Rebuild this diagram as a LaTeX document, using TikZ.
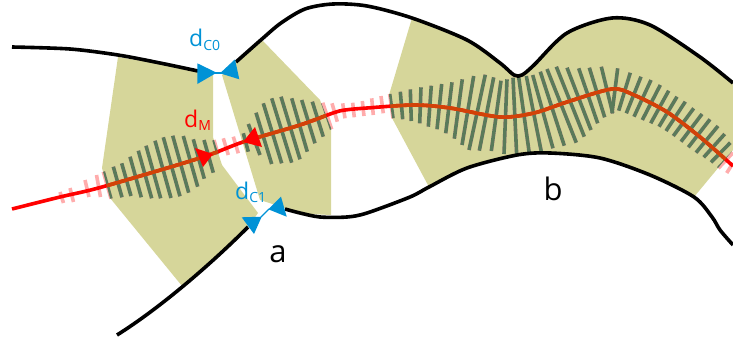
\documentclass[tikz,border=0pt]{standalone}
\usepackage{fontspec}
\setmainfont{Open Sans}
\usepackage{tikz}
\usetikzlibrary{arrows.meta,calc}
\definecolor{zonecolor}{RGB}{214,214,154}
\definecolor{gaugecolor}{RGB}{0,146,214}
\definecolor{tickcolor}{RGB}{90,122,90}
\definecolor{tickpale}{RGB}{255,172,172}
\definecolor{midcolor}{RGB}{255,0,0}
\definecolor{midinner}{RGB}{210,66,8}
\tikzset{
wall/.style={
  draw=black,
  line width=3.6pt
},
midline/.style={
  line width=3.6pt
},
tickline/.style={
  line width=3.6pt
},
gaugetip/.style={
  fill=gaugecolor
},
midtip/.style={
  fill=midcolor
},
gaugelabel/.style={
  text=gaugecolor,
  font=\fontsize{23}{25}\selectfont,
  inner sep=0pt
},
midlabel/.style={
  text=midcolor,
  font=\fontsize{23}{25}\selectfont,
  inner sep=0pt
},
namelabel/.style={
  text=black,
  font=\fontsize{31}{33}\selectfont,
  inner sep=0pt
}
}
% outlines of the shaded zones
\newcommand{\zoneleft}{(118,57) -- (197,70) -- (213,73) -- (213,137) -- (222,165) -- (258,213) -- (248,227) -- (182,286) -- (110,198) -- (102,168) -- cycle}
\newcommand{\zoneright}{(222,75) -- (236,62) -- (262,40) -- (320,100) -- (331,128) -- (331,215) -- (310,214) -- (285,208) -- (260,200) -- cycle}
\newcommand{\zonelong}{(412,18) -- plot[smooth] coordinates {(412,18) (467,40) (500,63) (514,75) (522,75) (534,65) (567,33) (612,18) (650,25) (700,57) (733,83)} -- (733,150) -- (694,197) -- plot[smooth] coordinates {(694,197) (650,175) (600,158) (550,153) (517,155) (467,168) (429,187)} -- (392,118) -- (389,95) -- cycle}
\newcommand{\midpath}{plot[smooth] coordinates {(12,209) (60,197) (102,187) (200,158) (243,142) (300,125) (333,113) (345,110) (367,108) (414,105) (450,108) (500,117) (534,113) (567,102) (612,89) (634,95) (667,112) (700,137) (733,166)}}
% tick ends along the mid line
\newcommand{\tickends}{
  60/192/63.5/203, 70/188/73.5/202, 85/180/89/197, 96.5/175/100.5/197,
  103.3/171.7/111/198.7, 113.3/166.7/122/197.3, 121.7/163.3/131/196, 130/156.7/141.3/197.3,
  138.3/150.7/151.7/198.3, 146/145.7/160.7/198.3, 155/140.7/171/198, 163.3/137.3/180/196.3,
  172.7/135.7/188.7/192.7, 183.3/136/197.7/186.7, 193.3/139.3/204.3/178.7, 204/140/213.3/172.7,
  214/140/218/154, 223.3/138.3/228.3/155, 233.3/136.7/238.3/153.3, 243.3/133.3/248.3/151.7,
  248.3/124/260/155, 256/112.7/271.7/164, 263.3/103.3/281.7/163.3, 271.7/98.3/291.7/162.7,
  281/96.7/300/159.3, 291.7/98.3/307.3/151.7, 301.7/100/315/143.3, 312.3/101.7/323.3/136.7,
  322.7/102.7/331.7/129.3,
  332/103.3/337.3/121.7, 342.7/103.3/345/118.3, 352.7/102.7/354.3/117.3, 362.3/101/364/116,
  371.7/98.3/373.3/115, 381/96/383.3/113.3,
  389.7/94/393/118.3, 400.3/91.7/402.7/119.3, 410.3/89.3/411.3/121, 421/87.3/419.7/123.3,
  431.3/85.7/428.3/126.7, 441.7/84/437/129.3, 452/82.3/445.7/133.3, 462.3/79.3/454.3/138.7,
  473.7/76/462/145, 485.3/74.7/469/150, 493.7/77.3/479.3/150.7, 501/80.7/491.3/151,
  507/79.3/504/154, 513/77.7/516.7/155.3, 518.7/77.3/529.3/153.3, 526.3/76/541.3/151.7,
  532.7/75/553/148.3, 540.3/71.7/564.3/145.7, 547/69/576.3/142.7, 556.3/66.7/584.3/136.7,
  567/67.7/591/130, 578.7/68.3/597.7/123.3, 589.3/67.7/604.7/117.3, 601.3/66.7/612.7/113.3,
  617.7/68.3/612/113.3, 630.3/72.7/618.7/110.7, 641/76.7/626.3/113.3, 651/80/634/116.7,
  660.3/85/642.3/120, 668.7/90.7/650.7/123.3, 677/96.7/659/126.7, 685.3/101.7/666/131,
  693.7/108.3/673.3/136, 702/114/681/141.7, 710/119.3/688.3/147.3, 718/126/696/152.7,
  724.7/134/703.7/157.3, 730.3/142.7/711/162.3,
  733/152.7/718.3/168.3, 733/163/726.7/173
}
\begin{document}
\begin{tikzpicture}[x=1pt,y=-1pt]
  \useasboundingbox (0,0) rectangle (733,337);
  % zones
  \fill[zonecolor] \zoneleft;
  \fill[zonecolor] \zoneright;
  \fill[zonecolor] \zonelong;
  % pale ticks and mid line
  \foreach \xa/\ya/\xb/\yb in \tickends {
    \draw[tickline,tickpale] (\xa,\ya) -- (\xb,\yb);
  }
  \draw[midline,midcolor] \midpath;
  % same again, darker inside the zones
  \begin{scope}
    \clip \zoneleft \zoneright \zonelong;
    \foreach \xa/\ya/\xb/\yb in \tickends {
      \draw[tickline,tickcolor] (\xa,\ya) -- (\xb,\yb);
    }
    \draw[midline,midinner] \midpath;
  \end{scope}
  % walls
  \draw[wall] plot[smooth] coordinates {(12,47) (70,49) (118,55) (160,63) (198,71)};
  \draw[wall] plot[smooth] coordinates {(236,62) (262,39) (281,23) (305,9) (333,4) (367,6) (412,18) (467,40) (500,63) (514,75) (522,75) (534,65) (567,33) (612,18) (650,25) (700,57) (733,83)};
  \draw[wall] (117,335) .. controls (160,308) and (210,265) .. (248,227);
  \draw[wall] plot[smooth] coordinates {(285,209) (300,213) (320,217) (347,217) (367,213) (410,197) (429,187) (467,168) (517,155) (550,153) (600,158) (650,175) (694,197) (712,217) (720,230) (733,245)};
  % arrow heads
  \fill[gaugetip] (197.3,63.3) -- (197.3,84) -- (216.7,72.7) -- cycle;
  \fill[gaugetip] (235,59.3) -- (239.3,79.3) -- (220,73.3) -- cycle;
  \draw[gaugecolor,line width=1.2pt] (214,73) -- (222,73);
  \fill[gaugetip] (241.7,217.3) -- (254,234) -- (261.7,216.7) -- cycle;
  \fill[gaugetip] (286.7,216.7) -- (281,196.7) -- (268.3,209.3) -- cycle;
  \draw[gaugecolor,line width=1.2pt] (261,217) -- (269,209);
  \fill[midtip] (195,148) -- (203,167) -- (213,154) -- cycle;
  \fill[midtip] (262,147) -- (255,127) -- (243,142) -- cycle;
  % labels
  \node[gaugelabel,anchor=base west] (labelc0) at (189,47) {d\textsubscript{\fontsize{14}{15}\selectfont C0}};
  \node[gaugelabel,anchor=base west] (labelc1) at (235,199) {d\textsubscript{\fontsize{14}{15}\selectfont C1}};
  \node[midlabel,anchor=base west] (labelm) at (184,127) {d\textsubscript{\fontsize{14}{15}\selectfont M}};
  \node[namelabel,anchor=base] (labela) at (278,262) {a};
  \node[namelabel,anchor=base] (labelb) at (553,200) {b};
\end{tikzpicture}
\end{document}
